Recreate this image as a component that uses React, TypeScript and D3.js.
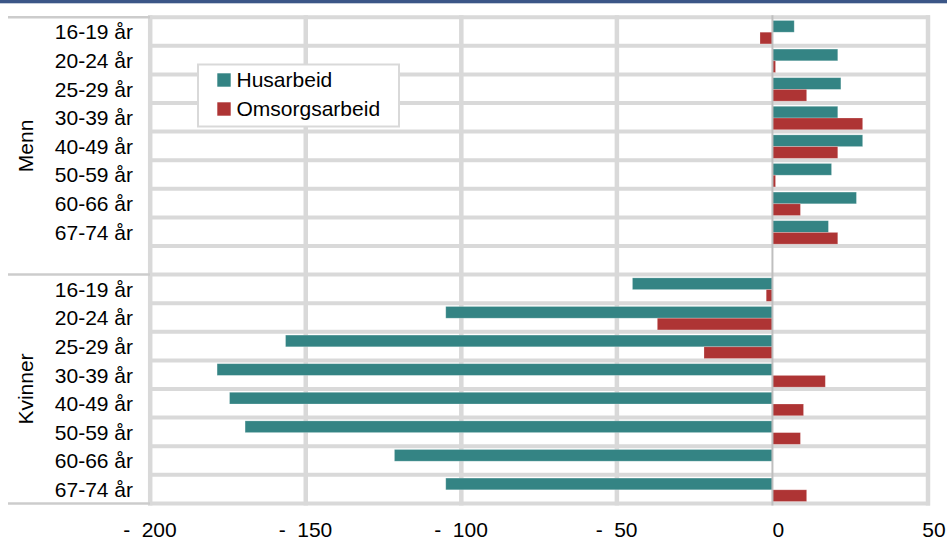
import React from "react";
import * as d3 from "d3";

const ageGroups = ["16-19 år", "20-24 år", "25-29 år", "30-39 år", "40-49 år", "50-59 år", "60-66 år", "67-74 år"];
const groupLabels = ["Menn", "Kvinner"];
const seriesNames = ["Husarbeid", "Omsorgsarbeid"];
const seriesColors = ["#348484", "#ae3434"];
const menHusarbeid = [7, 21, 22, 21, 29, 19, 27, 18];
const menOmsorg = [-4, 1, 11, 29, 21, 1, 9, 21];
const womenHusarbeid = [-45, -105, -156.5, -178.5, -174.5, -169.5, -121.5, -105];
const womenOmsorg = [-2, -37, -22, 17, 10, 9, 0, 11];
const xTicks = [-200, -150, -100, -50, 0, 50];

const W = 947;
const H = 541;
const FONT = "'Liberation Sans', Arial, sans-serif";
const GRID = "#d9d9d9";
const FS = 21;

type Row = { key: string; label: string; hus: number | null; oms: number | null };

const rows: Row[] = [
  ...ageGroups.map((a, i) => ({ key: "m" + i, label: a, hus: menHusarbeid[i], oms: menOmsorg[i] })),
  { key: "gap", label: "", hus: null, oms: null },
  ...ageGroups.map((a, i) => ({ key: "k" + i, label: a, hus: womenHusarbeid[i], oms: womenOmsorg[i] })),
];

export default function App() {
  const x = d3.scaleLinear().domain([-200, 50]).range([150.2, 928]);
  const y = d3.scaleBand<string>().domain(rows.map((r) => r.key)).range([17.2, 503.4]).padding(0);
  const bw = y.bandwidth();
  const barH = bw * 0.41;
  const x0 = x(0);

  const boundaries = d3.range(rows.length + 1).map((i) => 17.2 + i * bw);
  const gapEnd = (y("gap") as number) + bw;

  const barRect = (v: number | null, yy: number, color: string, k: string) => {
    if (v === null || v === 0) return null;
    const xa = Math.min(x(v), x0);
    const w = Math.abs(x(v) - x0);
    return <rect key={k} x={xa} y={yy} width={w} height={barH} fill={color} stroke="rgba(255,255,255,0.3)" strokeWidth={0.8} />;
  };

  const digitW = 0.556 * FS;
  const tickY = 537;

  return (
    <svg width={W} height={H} style={{ position: "absolute", left: 0, top: 0, background: "#fff" }} fontFamily={FONT}>
      <rect x={0} y={0} width={W} height={3.3} fill="#3b5687" />

      {/* vertical grid lines */}
      {xTicks.filter((t) => t !== 0).map((t) => (
        <line key={"vg" + t} x1={x(t)} x2={x(t)} y1={15.2} y2={505.4} stroke={GRID} strokeWidth={4.5} />
      ))}
      {/* horizontal grid lines */}
      {boundaries.map((b, i) => (
        <line key={"hg" + i} x1={148} x2={930} y1={b} y2={b} stroke={GRID} strokeWidth={4} />
      ))}
      {/* group separators in label area */}
      {[17.2, gapEnd, 503.4].map((b, i) => (
        <line key={"sep" + i} x1={8} x2={150} y1={b} y2={b} stroke="#cccccc" strokeWidth={2.5} />
      ))}

      {/* bars */}
      {rows.map((r) => {
        const top = (y(r.key) as number) + bw / 2 + 0.7 - barH;
        return (
          <g key={"b" + r.key}>
            {barRect(r.hus, top, seriesColors[0], "h")}
            {barRect(r.oms, top + barH, seriesColors[1], "o")}
          </g>
        );
      })}

      {/* zero line */}
      <line x1={x0} x2={x0} y1={15.2} y2={505.4} stroke="#bfbfbf" strokeWidth={2} />

      {/* category labels */}
      {rows.filter((r) => r.label).map((r) => (
        <text key={"l" + r.key} x={133} y={(y(r.key) as number) + bw / 2 + 7.8} textAnchor="end" fontSize={FS} fill="#000">
          {r.label}
        </text>
      ))}
      {/* group labels */}
      {groupLabels.map((g, gi) => {
        const first = gi === 0 ? "m0" : "k0";
        const n = gi === 0 ? 9 : 8;
        const cy = (y(first) as number) + (n * bw) / 2;
        return (
          <text key={g} transform={`translate(33,${cy}) rotate(-90)`} textAnchor="middle" fontSize={FS} fill="#000">
            {g}
          </text>
        );
      })}

      {/* x tick labels */}
      {xTicks.map((t) => {
        const s = String(Math.abs(t));
        const cx = x(t) + (t < 0 ? 9 : 6);
        const start = cx - (s.length * digitW) / 2;
        return (
          <g key={"t" + t}>
            <text x={cx} y={tickY} textAnchor="middle" fontSize={FS} fill="#000">{s}</text>
            {t < 0 && (
              <text x={start - 11.5} y={tickY} textAnchor="end" fontSize={FS} fill="#000">-</text>
            )}
          </g>
        );
      })}

      {/* legend */}
      <rect x={198} y={64.5} width={201} height={62} fill="#fff" stroke={GRID} strokeWidth={2} />
      {seriesNames.map((s, i) => (
        <g key={s}>
          <rect x={217.3} y={73.3 + i * 29} width={13.4} height={13.4} fill={seriesColors[i]} />
          <text x={236.5} y={86.7 + i * 29} fontSize={FS} fill="#000">{s}</text>
        </g>
      ))}
    </svg>
  );
}
